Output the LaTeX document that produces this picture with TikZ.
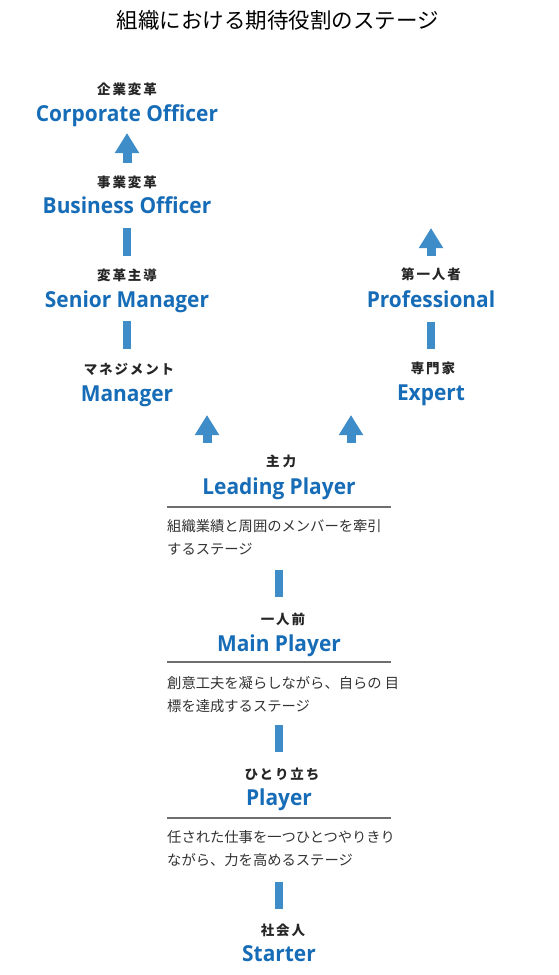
\documentclass[tikz,border=0pt]{standalone}
\usepackage{fontspec}
\usetikzlibrary{arrows.meta}
\setmainfont{Open Sans}
\newfontfamily\enfont[FakeStretch=0.95]{Open Sans}
\newfontfamily\jpfont{Noto Sans CJK JP}
\newfontfamily\jplabel[LetterSpace=14]{Noto Sans CJK JP}

\definecolor{stageblue}{RGB}{22,108,182}
\definecolor{arrowblue}{RGB}{62,140,200}
\definecolor{rulegray}{RGB}{110,110,110}

\begin{document}
\begin{tikzpicture}[x=1pt, y=-1pt,
    stagejp/.style={font=\jplabel\bfseries\fontsize{13.5}{13.5}\selectfont, text=black!85, inner sep=0pt},
    stageen/.style={font=\enfont\bfseries\fontsize{22}{22}\selectfont, text=stageblue, anchor=base, inner sep=0pt},
    stagedesc/.style={font=\jpfont\fontsize{14.3}{23}\selectfont, text=black!80, align=left, anchor=north west, inner sep=0pt},
    uparrow/.style={arrowblue, line width=9pt, -{Triangle[width=23pt,length=20pt]}},
    stagebar/.style={arrowblue, line width=8pt},
    divider/.style={rulegray, line width=1.5pt}]

    \useasboundingbox (0,0) rectangle (559,975);

    % Title
    \node[font=\jpfont\fontsize{21.5}{21.5}\selectfont] (title) at (278,20) {組織における期待役割のステージ};

    % Management track (left)
    \node[stagejp] (corpjp) at (127,89) {企業変革};
    \node[stageen] (corp) at (127,121) {Corporate Officer};
    \node[stagejp] (bizjp) at (127,182) {事業変革};
    \node[stageen] (biz) at (127,213) {Business Officer};
    \node[stagejp] (senjp) at (127,275) {変革主導};
    \node[stageen] (sen) at (127,307) {Senior Manager};
    \node[stagejp] (mgrjp) at (129,369) {マネジメント};
    \node[stageen] (mgr) at (127,401) {Manager};

    % Specialist track (right)
    \node[stagejp] (projp) at (431,274) {第一人者};
    \node[stageen] (pro) at (431,307) {Professional};
    \node[stagejp] (expjp) at (433,368) {専門家};
    \node[stageen] (exp) at (431,400) {Expert};

    % Player track (centre)
    \node[stagejp] (leadjp) at (281,461) {主\hspace{3pt}力};
    \node[stageen] (lead) at (279,494) {Leading Player};
    \node[stagedesc] (leaddesc) at (167,519) {組織業績と周囲のメンバーを牽引\\するステージ};
    \node[stagejp] (mainjp) at (283,619) {一人前};
    \node[stageen] (main) at (279,651) {Main Player};
    \node[stagedesc] (maindesc) at (167,676) {創意工夫を凝らしながら、自らの 目\\標を達成するステージ};
    \node[stagejp] (plyjp) at (282,774) {ひとり立ち};
    \node[stageen] (ply) at (279,805) {Player};
    \node[stagedesc] (plydesc) at (167,830) {任された仕事を一つひとつやりきり\\ながら、力を高めるステージ};
    \node[stagejp] (startjp) at (283,930) {社会人};
    \node[stageen] (start) at (279,961) {Starter};

    % Dividers under the player stages
    \draw[divider] (167,507) -- (391,507);
    \draw[divider] (167,662) -- (391,662);
    \draw[divider] (167,818) -- (391,818);

    % Arrow ends
    \coordinate (a1s) at (127,163); \coordinate (a1e) at (127,133);
    \coordinate (a2s) at (431,256); \coordinate (a2e) at (431,228);
    \coordinate (a3s) at (207,443); \coordinate (a3e) at (207,415);
    \coordinate (a4s) at (351,443); \coordinate (a4e) at (351,415);

    % Up arrows
    \foreach \s/\e in {a1s/a1e, a2s/a2e, a3s/a3e, a4s/a4e}
        \draw[uparrow] (\s) -- (\e);

    % Bars between stages
    \foreach \x/\ya/\yb in {127/228/256, 127/321/349, 431/322/349,
                            279/570/597, 279/725/752, 279/882/909}
        \draw[stagebar] (\x,\ya) -- (\x,\yb);

\end{tikzpicture}
\end{document}
